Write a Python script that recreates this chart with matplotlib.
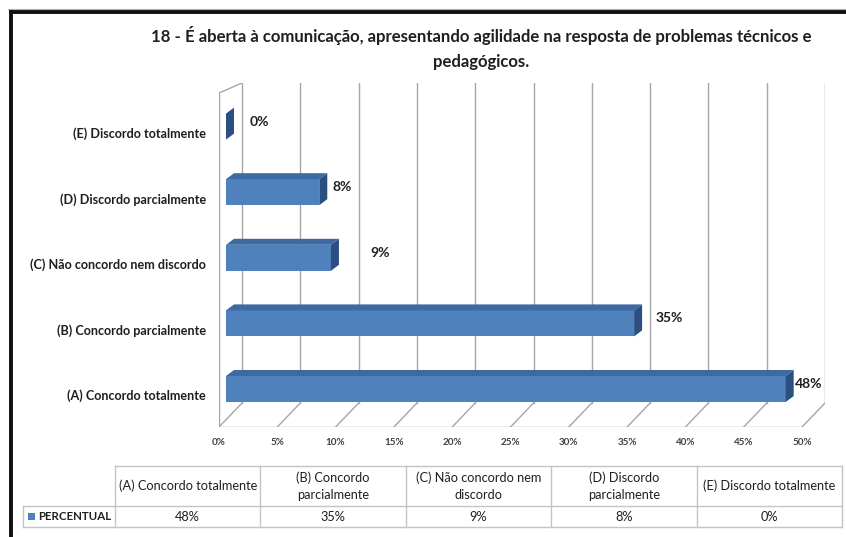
import matplotlib
matplotlib.use("Agg")
import matplotlib.pyplot as plt
from matplotlib.patches import Polygon, Rectangle

plt.rcParams['font.family'] = ['Lato', 'DejaVu Sans']

# ---------------- data ----------------
title = ("18 - É aberta à comunicação, apresentando agilidade na resposta de problemas técnicos e\n"
         "pedagógicos.")
categories = ["(A) Concordo totalmente", "(B) Concordo parcialmente",
              "(C) Não concordo nem discordo", "(D) Discordo parcialmente",
              "(E) Discordo totalmente"]
table_headers = ["(A) Concordo totalmente", "(B) Concordo\nparcialmente",
                 "(C) Não concordo nem\ndiscordo", "(D) Discordo\nparcialmente",
                 "(E) Discordo totalmente"]
values = [48, 35, 9, 8, 0]
series_name = "PERCENTUAL"
xticks = [0, 5, 10, 15, 20, 25, 30, 35, 40, 45, 50]
xtick_labels = [f"{t}%" for t in xticks]

# ---------------- style / layout ----------------
W, H = 846, 537
FRONT_C = "#4F81BD"
TOP_C = "#3D6AA3"
SIDE_C = "#2C4F82"
GRID_C = "#A6A6A6"
TABLE_C = "#C4C4C4"
TEXT_C = "#1F1F1F"
label_nudge_px = [1, 13, 31, 5, 16]

fig = plt.figure(figsize=(W / 100, H / 100), dpi=100)

# overlay axes in pixel coordinates (frame, table)
ox = fig.add_axes([0, 0, 1, 1])
ox.set_xlim(0, W)
ox.set_ylim(H, 0)
ox.axis("off")
ox.patch.set_alpha(0)

# chart axes
ax_l, ax_r, ax_t, ax_b = 219, 825, 83, 427
ax = fig.add_axes([ax_l / W, 1 - ax_b / H, (ax_r - ax_l) / W, (ax_b - ax_t) / H])
ppx = (802 - 219) / 50.0      # pixels per percent
ppy = 65.6                    # pixels per category step
y_bot = -(427 - 389) / ppy
y_top = y_bot + (ax_b - ax_t) / ppy
ax.set_xlim(0, (ax_r - ax_l) / ppx)
ax.set_ylim(y_bot, y_top)
ax.patch.set_alpha(0)
for s in ax.spines.values():
    s.set_visible(False)

DX = 23 / ppx
DY = 24 / ppy

# walls / grid
ax.plot([0, 0], [y_bot, y_bot + (427 - 93) / ppy], color=GRID_C, lw=1)
ax.plot([0, DX], [y_bot + (427 - 93) / ppy, y_top], color=GRID_C, lw=1)
ax.plot([0, 50], [y_bot, y_bot], color=GRID_C, lw=1)
for t in xticks:
    ax.plot([t + DX, t + DX], [y_bot + DY, y_top], color=GRID_C, lw=1)
    ax.plot([t, t + DX], [y_bot, y_bot + DY], color=GRID_C, lw=1)

# bars
pos = list(range(len(values)))
BX = 7 / ppx
bh = 26 / ppy
bdx = 8 / ppx
bdy = 6 / ppy
ax.barh(pos, values, left=BX, height=bh, color=FRONT_C, zorder=3)
for c, v, nud in zip(pos, values, label_nudge_px):
    x1 = BX + v
    top = [(BX, c + bh / 2), (x1, c + bh / 2), (x1 + bdx, c + bh / 2 + bdy), (BX + bdx, c + bh / 2 + bdy)]
    side = [(x1, c - bh / 2), (x1, c + bh / 2), (x1 + bdx, c + bh / 2 + bdy), (x1 + bdx, c - bh / 2 + bdy)]
    if v > 0:
        ax.add_patch(Polygon(top, closed=True, facecolor=TOP_C, edgecolor="none", zorder=3))
    ax.add_patch(Polygon(side, closed=True, facecolor=SIDE_C, edgecolor="none", zorder=3))
    ax.text(x1 + bdx + nud / ppx, c + 5 / ppy, f"{v}%", ha="left", va="center",
            fontsize=10, fontweight="bold", color=TEXT_C, zorder=4)

# axis labels
ax.set_yticks([p - 6 / ppy for p in pos])
ax.set_yticklabels(categories, fontsize=9.1, fontweight="bold", color=TEXT_C)
ax.set_xticks(xticks)
ax.set_xticklabels(xtick_labels, fontsize=7.1, fontweight="bold", color="#404040")
ax.tick_params(axis="y", length=0, pad=9.5)
ax.tick_params(axis="x", length=0, pad=8)

# title
fig.text(481 / W, 1 - 48 / H, title, ha="center", va="center", multialignment="center",
         fontsize=12.1, fontweight="bold", color=TEXT_C, linespacing=1.62)

# frame
ox.plot([8, W], [8.5, 8.5], color="#B0B0B0", lw=0.8)
ox.plot([10.5, 10.5], [10, H], color="#111111", lw=2.8, solid_capstyle="butt")
ox.plot([9, W], [11.5, 11.5], color="#111111", lw=2.8, solid_capstyle="butt")

# data table
cols = [115 + i * (842 - 115) / 5 for i in range(6)]
y0, y1, y2 = 466, 506, 527
ox.plot([cols[0], cols[-1]], [y0, y0], color=TABLE_C, lw=1)
ox.plot([23, cols[-1]], [y1, y1], color=TABLE_C, lw=1)
ox.plot([23, cols[-1]], [y2, y2], color=TABLE_C, lw=1)
ox.plot([23, 23], [y1, y2], color=TABLE_C, lw=1)
for cx in cols:
    ox.plot([cx, cx], [y0, y2], color=TABLE_C, lw=1)
for i, (hd, v) in enumerate(zip(table_headers, values)):
    cx = (cols[i] + cols[i + 1]) / 2
    ox.text(cx, (y0 + y1) / 2, hd, ha="center", va="center", fontsize=9.2,
            color=TEXT_C, linespacing=1.45)
    ox.text(cx, (y1 + y2) / 2 + 0.5, f"{v}%", ha="center", va="center", fontsize=9.2, color=TEXT_C)
ox.add_patch(Rectangle((28, 513), 7, 7, facecolor=FRONT_C, edgecolor="none"))
ox.text(38, (y1 + y2) / 2 + 0.5, series_name, ha="left", va="center", fontsize=8.3,
        fontweight="bold", color=TEXT_C)

fig.savefig("out.png", dpi=100)
